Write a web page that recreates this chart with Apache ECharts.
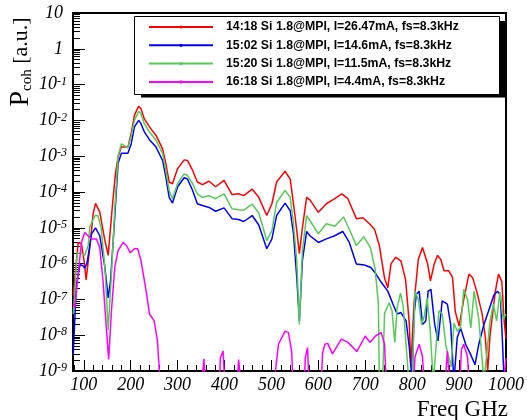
<!DOCTYPE html>
<html>
<head>
<meta charset="utf-8">
<script src="https://cdn.jsdelivr.net/npm/echarts@6/dist/echarts.min.js"></script>
<style>html,body{margin:0;padding:0;background:#fff}#c{width:527px;height:420px}</style>
</head>
<body>
<div id="c"></div>
<script>
const seriesNames = [
  '14:18 Si 1.8@MPI, I=26.47mA, fs=8.3kHz',
  '15:02 Si 1.8@MPI, I=14.6mA, fs=8.3kHz',
  '15:20 Si 1.8@MPI, I=11.5mA, fs=8.3kHz',
  '16:18 Si 1.8@MPI, I=4.4mA, fs=8.3kHz'
];
const seriesColors = ['#ff0000', '#0000ff', '#55cc55', '#ff00ff'];

const xTickLabels = [100, 200, 300, 400, 500, 600, 700, 800, 900, 1000];
const xMinorTicks = [80, 120, 140, 160, 180, 220, 240, 260, 280, 320, 340, 360, 380, 420, 440, 460, 480,
  520, 540, 560, 580, 620, 640, 660, 680, 720, 740, 760, 780, 820, 840, 860, 880, 920, 940, 960, 980];
const yTickLabels = [1e-9, 1e-8, 1e-7, 1e-6, 1e-5, 1e-4, 1e-3, 1e-2, 1e-1, 1, 10];

// [frequency GHz, P_coh]
const red14_18 = [
  [77.6,1.3e-7],[88,3.9e-6],[95,3.6e-6],[101,1.1e-6],[105,3.5e-7],[113,3.0e-6],[120,2.5e-5],[125,4.8e-5],
  [134,2.8e-5],[145,4.4e-6],[152,1.7e-6],[155,1.6e-6],[162,5.8e-5],[167.5,3.2e-4],[173,9.5e-4],[180,1.8e-3],
  [184,2.0e-3],[194,1.8e-3],[201,4.3e-3],[208,1.4e-2],[217,2.5e-2],[222,2.1e-2],[229,1.1e-2],[240,6.6e-3],
  [254,3.8e-3],[268,1.6e-3],[275,6.2e-4],[282,1.9e-4],[289,1.7e-4],[300,4.5e-4],[314,7.9e-4],[321,7.6e-4],
  [332,4.0e-4],[342,1.9e-4],[353,1.6e-4],[367,2.0e-4],[381,1.4e-4],[399,2.1e-4],[416,8.5e-5],[430,8.9e-5],
  [441,7.9e-5],[459,1.2e-4],[473,7.1e-5],[490,2.2e-5],[501,4.7e-5],[511,1.9e-4],[529,3.8e-4],[540,2.3e-4],
  [547,4.7e-5],[554,8.3e-6],[559.5,1.9e-6],[566,1.0e-5],[575,7.1e-5],[582,6.0e-5],[600,2.7e-5],[617,4.7e-5],
  [635,6.5e-5],[650,8.9e-5],[663,6.5e-5],[681,1.8e-5],[695,1.9e-5],[709,1.3e-5],[720,8.9e-6],[730,3.2e-6],
  [741,4.0e-7],[748,2.1e-7],[755,1.0e-6],[765,1.5e-6],[776,1.2e-6],[786,3.5e-7],[794,2.0e-8],[797,1.3e-9],
  [804,7.9e-8],[813,1.3e-6],[822,2.8e-6],[833,9.8e-7],[839,3.3e-7],[847,9.8e-7],[854,1.7e-6],[861,1.3e-6],
  [868,6.3e-7],[878,6.3e-7],[886,4.1e-7],[892,4.5e-8],[900,1.8e-8],[910,1.0e-7],[921,5.1e-7],[929,4.0e-7],
  [938,1.6e-7],[949,4.0e-8],[956,8.5e-9],[961,1.0e-9],[966,1.0e-8],[977,1.6e-7],[984,5.1e-7],[991,3.2e-7],
  [996,2.5e-8],[1000,8e-9]
];
const blue15_02 = [
  [77.6,3.0e-9],[84,2.5e-7],[92,9.3e-7],[97.5,8.9e-7],[102.4,7.4e-7],[107.3,1.1e-6],[116.6,6.8e-6],[120,7.6e-6],
  [125,1.0e-5],[127,1.0e-5],[134,6.0e-6],[145,7.8e-7],[152,1.1e-7],[157,3.3e-7],[166,2.0e-5],[173,6.2e-4],
  [180,1.2e-3],[187,1.2e-3],[194,1.2e-3],[201,2.2e-3],[208,6.6e-3],[217,1.0e-2],[222,8.1e-3],[229,4.8e-3],
  [240,2.9e-3],[254,1.8e-3],[268,7.6e-4],[275,2.6e-4],[282,7.1e-5],[289,4.9e-5],[300,1.4e-4],[314,2.5e-4],
  [321,2.3e-4],[332,1.1e-4],[342,4.7e-5],[353,4.2e-5],[367,3.7e-5],[381,2.9e-5],[399,3.6e-5],[416,1.8e-5],
  [430,1.7e-5],[441,1.5e-5],[459,2.2e-5],[473,1.2e-5],[490,2.6e-6],[501,4.9e-6],[511,2.2e-5],[529,4.9e-5],
  [540,3.0e-5],[547,6.8e-6],[554,4.1e-7],[559.5,2.5e-8],[566,1.2e-6],[575,7.9e-6],[582,6.0e-6],[600,3.9e-6],
  [617,4.9e-6],[635,6.0e-6],[652,7.9e-6],[666,3.9e-6],[681,9.8e-7],[698,9.1e-7],[712,7.8e-7],[723,5.1e-7],
  [734,3.0e-7],[748,1.7e-7],[759,7.4e-8],[768,3.9e-8],[776,4.3e-8],[787,2.5e-8],[794,4.5e-9],[800,5e-10],
  [804,3.9e-8],[809,1.4e-7],[815,1.7e-7],[822,2.0e-8],[829,2.5e-8],[834,1.7e-7],[840,1.9e-7],[848,2.0e-8],
  [855,6.9e-9],[864,9.1e-8],[875,7.4e-8],[882,2.0e-8],[889,5e-10],[896,8.5e-9],[903,1.6e-8],[914,5.6e-9],
  [924,3.0e-9],[934,1.5e-9],[942,5.6e-9],[953,2.0e-8],[963,4.8e-8],[974,1.3e-7],[982,1.7e-7],[988,1.3e-7],
  [993,4.5e-9],[996,5e-10]
];
const green15_20 = [
  [77.6,3.9e-8],[86,2.0e-6],[95,1.9e-6],[102,1.7e-6],[109.4,3.2e-6],[113,1.1e-5],[124,2.2e-5],[130,2.2e-5],
  [137,1.0e-5],[145,7.8e-7],[152,1.4e-8],[159,5.0e-7],[166,3.2e-5],[173,1.0e-3],[180,2.2e-3],[184,2.1e-3],
  [194,1.7e-3],[201,3.5e-3],[208,1.0e-2],[217,1.8e-2],[222,1.5e-2],[229,8.1e-3],[240,4.8e-3],[254,2.8e-3],
  [268,1.2e-3],[275,4.0e-4],[282,1.1e-4],[289,6.5e-5],[300,1.7e-4],[314,3.2e-4],[321,2.9e-4],[332,1.7e-4],
  [342,8.9e-5],[353,7.1e-5],[367,7.9e-5],[381,6.5e-5],[399,8.9e-5],[416,3.4e-5],[430,3.2e-5],[441,3.1e-5],
  [459,4.6e-5],[473,2.6e-5],[490,4.4e-6],[501,8.3e-6],[511,5.1e-5],[529,1.1e-4],[540,7.1e-5],[547,1.3e-5],
  [554,1.2e-6],[559.5,2.0e-8],[566,2.3e-6],[575,2.2e-5],[582,1.6e-5],[600,6.8e-6],[617,1.3e-5],[635,1.1e-5],
  [654,2.0e-5],[666,9.1e-6],[681,3.2e-6],[697,5.6e-6],[711,2.8e-6],[721,7.1e-7],[728,7.4e-8],[730,5e-10],
  [737,5e-10],[741,4.0e-8],[751,8.1e-8],[757,4.8e-8],[763,6.3e-9],[768,5.9e-8],[775,1.5e-7],[781,6.3e-8],
  [788,3.6e-9],[793,5e-10],[800,5e-10],[806,1.7e-7],[813,1.0e-7],[820,2.0e-8],[826,3.5e-8],[832,1.1e-7],
  [838,1.6e-8],[845,5e-10],[848,5e-10],[857,4.8e-8],[864,3.9e-8],[872,5.0e-9],[883,1.3e-9],[889,2.2e-8],
  [896,1.3e-8],[903,1.6e-8],[910,1.9e-7],[918,1.0e-7],[925,1.6e-8],[932,1.7e-7],[942,2.8e-8],[953,5e-10],
  [959,3.0e-9],[966,2.5e-8],[973,7.4e-8],[980,2.5e-8],[987,1.6e-7],[994,2.8e-8],[1000,3.9e-8]
];
const magenta16_18 = [
  [77.6,7.4e-8],[81,5.9e-8],[88,5.1e-7],[95,3.9e-6],[102,7.4e-6],[109,6.0e-6],[117,4.9e-6],[127,4.9e-6],
  [134,2.8e-6],[141,3.3e-7],[148,1.6e-8],[153,2.1e-9],[159,4.8e-8],[166,7.8e-7],[173,2.3e-6],[184,3.9e-6],
  [191,3.2e-6],[199,2.0e-6],[208,2.6e-6],[215,2.6e-6],[222,1.2e-6],[233,1.7e-7],[240,3.9e-8],[250,2.5e-8],
  [257,6.9e-9],[261,1.0e-9],[266,1e-10],[348,1e-10],[356,2.2e-9],[362,1e-10],[388,1e-10],[391,2.3e-9],
  [397,3.6e-9],[403,1e-10],[424,1e-10],[430,2.1e-9],[439,1e-10],[500,1e-10],[515,5.6e-9],[529,1.3e-8],
  [536,1.2e-8],[543,3.6e-9],[548,1e-10],[569,1e-10],[572,2.3e-9],[577,4.5e-9],[582,1e-10],[604,1e-10],
  [609,3.2e-9],[614,5.6e-9],[620,5.9e-9],[630,3.0e-9],[649,7.8e-9],[663,6.3e-9],[682,3.5e-9],[700,9.5e-9],
  [710,6.3e-9],[722,9.5e-9],[734,1.2e-8],[741,5.6e-9],[747,1e-10],[800,1e-10],[806,2.5e-9],[815,5.6e-9],
  [822,2.5e-9],[829,1e-10],[867,1e-10],[875,3.6e-9],[883,1e-10],[899,1e-10],[905,4.0e-9],[910,5.6e-9],
  [918,2.5e-9],[924,1e-10],[990,1e-10],[1000,2.3e-9]
];
const seriesData = [red14_18, blue15_02, green15_20, magenta16_18];

const yMinorTicks = [];
for (let e = -9; e <= 0; e++) for (let k = 2; k <= 9; k++) yMinorTicks.push(k * Math.pow(10, e));

const serif = 'Liberation Serif';
const chart = echarts.init(document.getElementById('c'), null, {renderer: 'canvas'});
chart.setOption({
  animation: false,
  backgroundColor: '#fff',
  grid: {left: 73, right: 18, top: 13, bottom: 49, show: true, borderColor: '#000', borderWidth: 2, backgroundColor: 'transparent'},
  xAxis: [
    {type: 'value', min: 77, max: 1000, gridIndex: 0, position: 'bottom',
      axisLine: {show: false}, splitLine: {show: false},
      axisTick: {show: true, inside: true, length: 11, lineStyle: {color: '#000', width: 1}, customValues: xTickLabels},
      axisLabel: {show: true, customValues: xTickLabels, margin: 5, color: '#000', fontFamily: serif, fontStyle: 'italic', fontSize: 18,
        formatter: function (v) { return String(v); }}},
    {type: 'value', min: 77, max: 1000, gridIndex: 0, position: 'bottom',
      axisLine: {show: false}, splitLine: {show: false}, axisLabel: {show: false},
      axisTick: {show: true, inside: true, length: 6, lineStyle: {color: '#000', width: 1}, customValues: xMinorTicks}}
  ],
  yAxis: [
    {type: 'log', logBase: 10, min: 1e-9, max: 10, position: 'left',
      axisLine: {show: false}, splitLine: {show: false},
      axisTick: {show: true, inside: true, length: 12, lineStyle: {color: '#000', width: 1}, customValues: yTickLabels},
      axisLabel: {show: true, customValues: yTickLabels, margin: 6,
        formatter: function (v) {
          const e = Math.round(Math.log10(v));
          if (e === 1) return '{p|10}';
          if (e === 0) return '{p|1}';
          return '{b|10}{s|' + e + '}';
        },
        rich: {
          b: {fontFamily: serif, fontStyle: 'italic', fontSize: 18, color: '#000', lineHeight: 18},
          p: {fontFamily: serif, fontStyle: 'italic', fontSize: 18, color: '#000', lineHeight: 18, padding: [0, 4, 0, 0]},
          s: {fontFamily: serif, fontStyle: 'italic', fontSize: 12, color: '#000', verticalAlign: 'top', lineHeight: 12}
        }}},
    {type: 'log', logBase: 10, min: 1e-9, max: 10, position: 'left',
      axisLine: {show: false}, splitLine: {show: false}, axisLabel: {show: false},
      axisTick: {show: true, inside: true, length: 7, lineStyle: {color: '#000', width: 1}, customValues: yMinorTicks}}
  ],
  legend: {
    show: true, orient: 'vertical', left: 148, top: 21, padding: 0, z: 20,
    itemWidth: 64, itemHeight: 4, itemGap: 6.3,
    data: seriesNames,
    formatter: function (name) { return '{g| }{t|' + name + '}'; },
    textStyle: {
      rich: {
        g: {width: 8, fontSize: 12},
        t: {fontFamily: 'Liberation Sans', fontWeight: 'bold', fontSize: 12.3, color: '#000'}
      }
    }
  },
  graphic: [
    {type: 'rect', z: 15, shape: {x: 141, y: 21, width: 364, height: 76.5}, style: {fill: '#000'}},
    {type: 'rect', z: 16, shape: {x: 134.5, y: 16.5, width: 365, height: 78}, style: {fill: '#fff', stroke: '#000', lineWidth: 1}},
    {type: 'text', z: 16, x: 508, y: 410, style: {text: 'Freq GHz', fontFamily: serif, fontSize: 23, fill: '#000', align: 'right', verticalAlign: 'middle'}},
    {type: 'text', z: 16, x: 21, y: 62, rotation: Math.PI / 2,
      style: {text: '{p|P}{s|coh}{q| [a.u.]}', align: 'center', verticalAlign: 'middle',
        rich: {
          p: {fontFamily: serif, fontSize: 28, fill: '#000', lineHeight: 28},
          s: {fontFamily: serif, fontSize: 15, fill: '#000', verticalAlign: 'bottom', lineHeight: 15, padding: [6, 0, 0, 0]},
          q: {fontFamily: serif, fontSize: 22, fill: '#000', lineHeight: 22}
        }}}
  ],
  series: seriesData.map((d, i) => ({
    name: seriesNames[i], type: 'line', data: d, xAxisIndex: 0, yAxisIndex: 0,
    symbol: 'circle', symbolSize: 3, showSymbol: false, clip: true, z: 2 + i,
    lineStyle: {color: seriesColors[i], width: 1.5}, itemStyle: {color: seriesColors[i]}
  }))
});
</script>
</body>
</html>
